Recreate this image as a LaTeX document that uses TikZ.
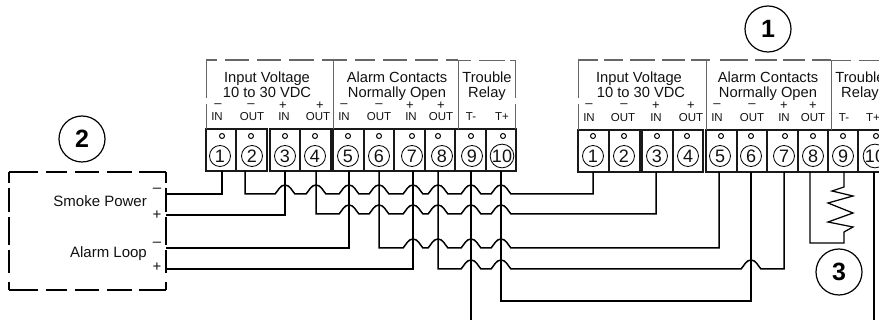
\documentclass[tikz,border=0pt]{standalone}
\usepackage{fontspec}
\setmainfont{Liberation Sans}
\definecolor{txt}{HTML}{111111}
\definecolor{frm}{HTML}{666666}
\tikzset{
  wire/.style={line width=1.5pt,black,line join=miter},
  termbox/.style={draw=black!90,line width=1.3pt,rectangle,inner sep=0pt,minimum height=42pt},
  termnum/.style={draw=black,line width=0.85pt,circle,inner sep=0pt,minimum size=21pt,font=\fontsize{18}{18}\selectfont,text=txt},
  termdot/.style={draw=black,line width=1pt,circle,inner sep=0pt,minimum size=5pt},
  callout/.style={draw=black,line width=1.2pt,circle,inner sep=0pt,minimum size=46pt,font=\bfseries\fontsize{25}{25}\selectfont},
  title/.style={inner sep=0pt,anchor=base,text=txt,font=\fontsize{14.7}{14.7}\selectfont},
  small/.style={inner sep=0pt,anchor=base,text=txt,font=\fontsize{11.5}{11.5}\selectfont},
  signl/.style={inner sep=0pt,text=txt,font=\fontsize{13}{13}\selectfont},
  bigsign/.style={inner sep=0pt,text=txt,font=\fontsize{15}{15}\selectfont},
  sidel/.style={inner sep=0pt,anchor=east,text=txt,font=\fontsize{15}{15}\selectfont},
  thickdash/.style={draw=frm,line width=1.4pt},
  thindash/.style={draw=frm,line width=0.75pt,dash pattern=on 38pt off 6pt},
  thinline/.style={draw=frm,line width=0.75pt},
  boxdash/.style={draw=black,line width=1.5pt}
}
\def\hop#1#2{-- ({#1-10},#2) .. controls ({#1-7},{#2-3}) and ({#1-5},{#2-9}) .. (#1,{#2-9}) .. controls ({#1+5},{#2-9}) and ({#1+7},{#2-3}) .. ({#1+10},#2)}
\begin{document}
\begin{tikzpicture}[x=1pt,y=-1pt]
\useasboundingbox (0,0) rectangle (879,320);
% left terminal strip
\foreach \n/\l/\r/\c/\d/\w in {1/206/236/220/222/222,2/236/267/252/251/245,3/270/300/285/285/285,4/300/331/315/315/316,5/333/364/348/348/349,6/364/394/379/379/379,7/394/425/412/412/413,8/425/455/442/438/438,9/455/486/472/471/471,10/486/516/502/503/501}{
  \node[termbox,minimum width={\r-\l}] (a\n) at ({(\l+\r)/2},150) {};
  \node[termdot] (ad\n) at (\d,136) {};
  \node[termnum] (an\n) at (\c,156) {\n};
  \coordinate (wa\n) at (\w,171);
}
% right terminal strip
\foreach \n/\l/\r/\c/\d/\w in {1/578/609/593/593/593,2/609/640/624/624/624,3/642/673/657/657/656,4/673/703/688/687/688,5/706/737/720/721/719,6/737/767/751/751/751,7/767/798/784/785/784,8/798/828/813/813/810,9/828/858/843/843/844,10/858/889/875/876/874}{
  \node[termbox,minimum width={\r-\l}] (b\n) at ({(\l+\r)/2},151) {};
  \node[termdot] (bd\n) at (\d,136) {};
  \node[termnum] (bn\n) at (\c,156) {\n};
  \coordinate (wb\n) at (\w,172);
}
% frames, left strip
\draw[thickdash,dash pattern=on 11pt off 8pt on 24pt off 8pt on 24pt off 8pt on 25pt off 8pt on 25pt off 8pt on 20pt off 8pt on 24pt off 8pt on 23pt off 8pt on 12pt] (206,60) -- (458,60);
\draw[thindash] (206,60) -- (206,129);
\draw[thinline] (333,60) -- (333,129);
\draw[thinline] (458,60) -- (458,129);
\draw[thinline,dash pattern=on 13pt off 8pt on 26pt off 5pt] (458,60) -- (515,60);
\draw[thindash] (515,60) -- (515,129);
% frames, right strip
\draw[thickdash,dash pattern=on 20pt off 6pt on 19pt off 7pt on 25pt off 7pt on 23pt off 6pt on 19pt off 10pt on 28pt off 7pt on 22pt off 6pt on 22pt off 7pt on 19pt] (578,60) -- (831,60);
\draw[thindash] (578,60) -- (578,130);
\draw[thinline] (706,60) -- (706,130);
\draw[thinline] (831,60) -- (831,130);
\draw[thinline,dash pattern=on 20pt off 8pt on 26pt off 5pt] (831,60) -- (879,60);
% titles
\node[title] (t1) at (267,83) {Input Voltage};
\node[title] (t2) at (267,98) {10 to 30 VDC};
\node[title] (t3) at (397,83) {Alarm Contacts};
\node[title] (t4) at (397,98) {Normally Open};
\node[title] (t5) at (487,83) {Trouble};
\node[title] (t6) at (487,98) {Relay};
\node[title] (r1) at (639,83) {Input Voltage};
\node[title] (r2) at (641,98) {10 to 30 VDC};
\node[title] (r3) at (768,83) {Alarm Contacts};
\node[title] (r4) at (768,98) {Normally Open};
\node[title] (r5) at (860,83) {Trouble};
\node[title] (r6) at (860,98) {Relay};
% terminal labels
\foreach \i/\x/\s in {1/217/IN,2/252/OUT,3/284/IN,4/318/OUT,5/344/IN,6/379/OUT,7/411/IN,8/441/OUT,9/471/T-,10/502/T+}{\node[small] (la\i) at (\x,121) {\s};}
\foreach \i/\x/\s in {1/589/IN,2/623/OUT,3/656/IN,4/691/OUT,5/717/IN,6/752/OUT,7/784/IN,8/813/OUT,9/844/T-,10/873/T+}{\node[small] (lb\i) at (\x,122) {\s};}
\foreach \i/\x/\s in {1/218/–,2/251/–,3/283/+,4/320/+,5/344/–,6/379/–,7/410/+,8/441/+}{\node[signl] (sa\i) at (\x,106) {\s};}
\foreach \i/\x/\s in {1/589/–,2/624/–,3/656/+,4/691/+,5/717/–,6/752/–,7/784/+,8/813/+}{\node[signl] (sb\i) at (\x,106) {\s};}
% callouts
\node[callout] (c1) at (768,29) {1};
\node[callout] (c2) at (82,139) {2};
\node[callout] (c3) at (839,272) {3};
% smoke box
\draw[boxdash,dash pattern=on 29pt off 8pt on 21pt off 8pt on 24pt off 8pt on 25pt off 7pt on 27pt] (9,172) -- (166,172);
\draw[boxdash,dash pattern=on 29pt off 8pt on 21pt off 8pt on 24pt off 8pt on 25pt off 7pt on 27pt] (9,290) -- (166,290);
\draw[boxdash,dash pattern=on 11pt off 5pt on 24pt off 5pt on 28pt off 5pt on 23pt off 9pt on 8pt] (9,172) -- (9,290);
\draw[boxdash,dash pattern=on 11pt off 5pt on 24pt off 5pt on 28pt off 5pt on 23pt off 9pt on 8pt] (166,172) -- (166,290);
\node[sidel] (sp) at (147,201) {Smoke Power};
\node[sidel] (al) at (147,254) {Alarm Loop};
\node[bigsign] (m1) at (157,190) {–};
\node[bigsign] (p1) at (157,215) {+};
\node[bigsign] (m2) at (157,244) {–};
\node[bigsign] (p2) at (157,267) {+};
\coordinate (sm) at (166,194);
\coordinate (sp2) at (166,215);
\coordinate (am) at (166,248);
\coordinate (ap) at (166,269);
% wires
\draw[wire] (sm) -| (wa1);
\draw[wire] (sp2) -| (wa3);
\draw[wire] (am) -| (wa5);
\draw[wire] (ap) -| (wa7);
\draw[wire] (wa2) -- (245,194) \hop{285}{194} \hop{316}{194} \hop{349}{194} \hop{379}{194} \hop{413}{194} \hop{438}{194} \hop{471}{194} \hop{501}{194} -| (wb1);
\draw[wire] (wa4) -- (316,214) \hop{349}{214} \hop{379}{214} \hop{413}{214} \hop{438}{214} \hop{471}{214} \hop{501}{214} -| (wb3);
\draw[wire] (wa6) -- (379,248) \hop{413}{248} \hop{438}{248} \hop{471}{248} \hop{501}{248} -| (wb5);
\draw[wire] (wa8) -- (438,269) \hop{471}{269} \hop{501}{269} \hop{751}{269} -| (wb7);
\coordinate (end9) at (471,320);
\draw[wire] (wa9) -- (end9);
\coordinate (bot) at (501,301);
\draw[wire] (wa10) -- (bot) -| (wb6);
\coordinate (end10) at (874,320);
\draw[wire] (wb10) -- (end10);
\draw[wire,line width=1.25pt] (wb9) -- (844,187) -- (832,191) -- (853,196) -- (828,203) -- (853,213) -- (828,222) -- (853,227) -- (844,232) -- (844,243) -| (wb8);
\end{tikzpicture}
\end{document}
